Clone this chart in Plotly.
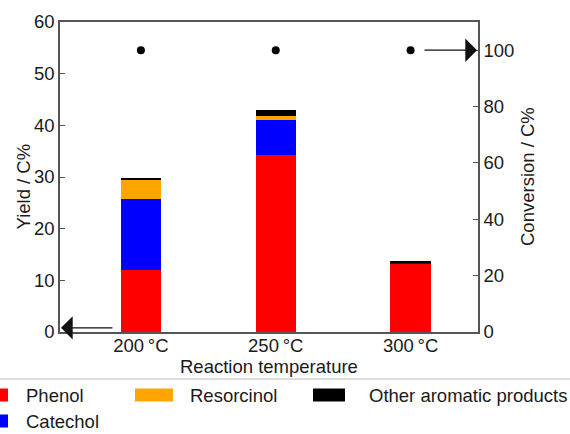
import plotly.graph_objects as go

# ---- data ----
categories = ["200\u2009°C", "250\u2009°C", "300\u2009°C"]
phenol = [12.0, 34.3, 13.3]
catechol = [13.7, 6.7, 0.2]
resorcinol = [3.7, 0.9, 0.0]
other = [0.5, 1.1, 0.3]
conversion = [100, 100, 100]
series_names = ["Phenol", "Catechol", "Resorcinol", "Other aromatic products"]
series_colors = ["#FF0000", "#0000FF", "#FFA500", "#000000"]
yield_ticks = [0, 10, 20, 30, 40, 50, 60]
conv_ticks = [0, 20, 40, 60, 80, 100]

W, H = 570, 434
L, R, T, B = 60, 478, 22, 332
FONT = "Liberation Sans, Arial, sans-serif"
FS = 18.5
TXT = "#1a1a1a"
AX = "#555555"

def px(x):
    return (x - L) / (R - L)

def py(y):
    return (B - y) / (B - T)

xpos = list(range(len(categories)))
fig = go.Figure()
for name, vals, col in zip(series_names, [phenol, catechol, resorcinol, other], series_colors):
    fig.add_trace(go.Bar(x=xpos, y=vals, name=name, marker=dict(color=col, line=dict(width=0)),
                         width=0.30, showlegend=False))

fig.add_trace(go.Scatter(x=xpos, y=conversion, yaxis="y2", mode="markers",
                         marker=dict(color="black", size=8), showlegend=False))

fig.update_layout(
    width=W, height=H, barmode="stack",
    margin=dict(l=L, r=W - R, t=T, b=H - B, pad=0),
    plot_bgcolor="white", paper_bgcolor="white",
    font=dict(family=FONT, size=FS, color=TXT),
    xaxis=dict(range=[-0.6, 2.5], tickvals=xpos, ticktext=categories, showgrid=False,
               zeroline=False, showline=True, linecolor=AX, linewidth=1.5, mirror=True,
               ticks="", ticklabelstandoff=-4, tickfont=dict(size=FS, color=TXT)),
    yaxis=dict(range=[0, 60], tickvals=yield_ticks, showgrid=False, zeroline=False,
               showline=True, linecolor=AX, linewidth=1.5, ticks="inside", ticklen=5,
               tickcolor=AX, tickfont=dict(size=FS, color=TXT)),
    yaxis2=dict(range=[0, 110], tickvals=conv_ticks, overlaying="y", side="right",
                showgrid=False, zeroline=False, showline=True, linecolor=AX, linewidth=1.5,
                ticks="inside", ticklen=5, tickcolor=AX, tickfont=dict(size=FS, color=TXT)),
)

ann = []
# axis titles
ann.append(dict(text="Reaction temperature", xref="paper", yref="paper", x=px(268.5), y=py(366),
                xanchor="center", yanchor="middle", showarrow=False, font=dict(size=FS, color=TXT)))
ann.append(dict(text="Yield / C%", xref="paper", yref="paper", x=px(23), y=py(186.5), textangle=-90,
                xanchor="center", yanchor="middle", showarrow=False, font=dict(size=FS, color=TXT)))
ann.append(dict(text="Conversion / C%", xref="paper", yref="paper", x=px(527), y=py(177), textangle=-90,
                xanchor="center", yanchor="middle", showarrow=False, font=dict(size=FS, color=TXT)))
# arrows
ann.append(dict(text="", xref="paper", yref="y", x=px(61), y=0.8, ax=53, ay=0, showarrow=True,
                arrowhead=1, arrowsize=3, arrowwidth=1.3, arrowcolor="#111"))
ann.append(dict(text="", xref="paper", yref="y2", x=px(477), y=100, ax=-54, ay=0, showarrow=True,
                arrowhead=1, arrowsize=3, arrowwidth=1.3, arrowcolor="#111"))

# manual legend
shapes = [dict(type="line", xref="paper", yref="paper", x0=px(0), x1=px(570), y0=py(379), y1=py(379),
               line=dict(color="#dddddd", width=2))]
legend_items = [  # series index, swatch x0, x1, row center y, text x
    (0, -5, 8, 395, 24),
    (1, -5, 8, 421, 24),
    (2, 135, 173, 395, 188),
    (3, 313, 345, 395, 367),
]
for idx, sx0, sx1, cy, tx in legend_items:
    shapes.append(dict(type="rect", xref="paper", yref="paper", x0=px(sx0), x1=px(sx1),
                       y0=py(cy - 6.5), y1=py(cy + 6.5), fillcolor=series_colors[idx],
                       line=dict(width=0)))
    ann.append(dict(text=series_names[idx], xref="paper", yref="paper", x=px(tx), y=py(cy),
                    xanchor="left", yanchor="middle", showarrow=False, font=dict(size=FS, color=TXT)))

fig.update_layout(annotations=ann, shapes=shapes)
fig.write_html("out.html")
